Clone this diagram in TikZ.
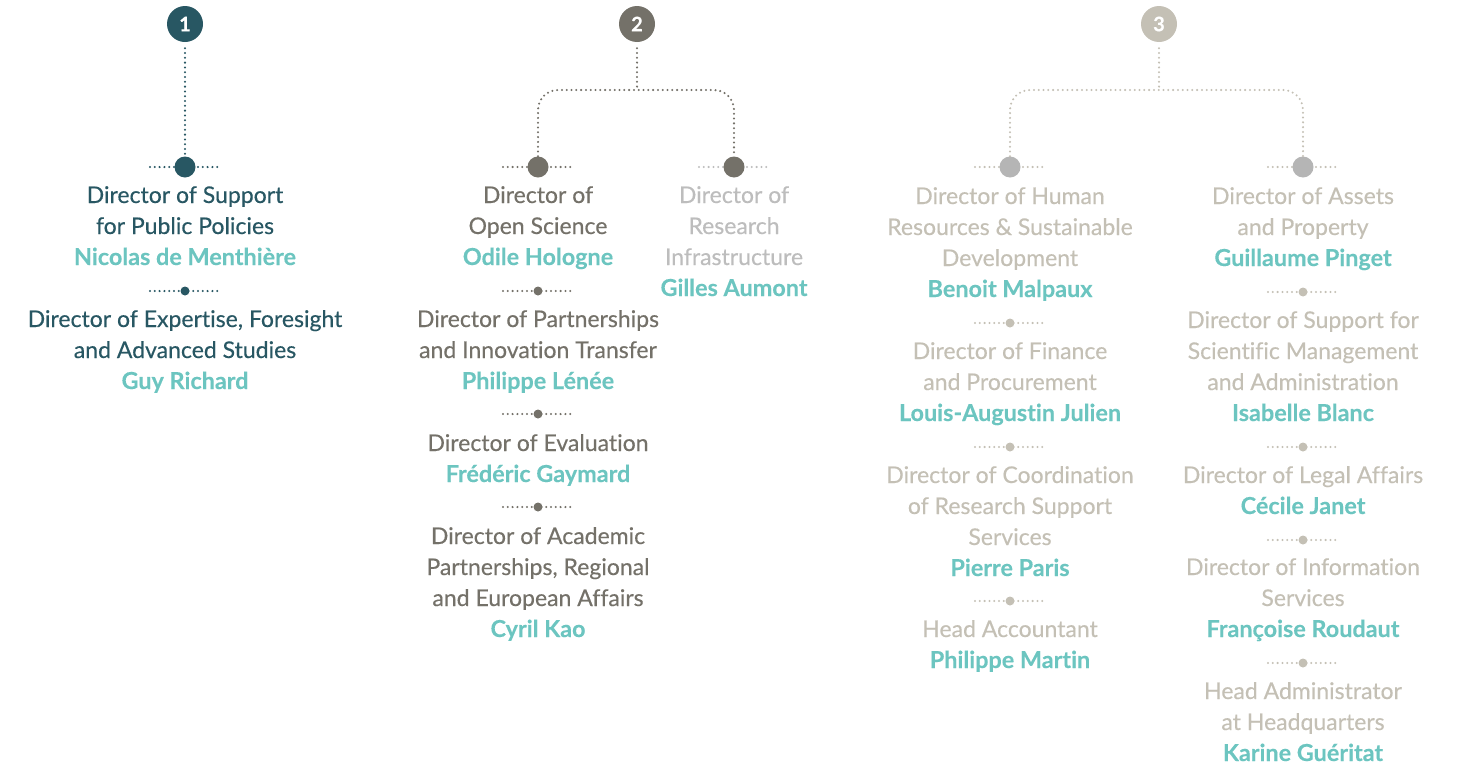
\documentclass[tikz,border=0pt]{standalone}
\usepackage{fontspec}
\setmainfont{Lato}[Ligatures=NoCommon,FakeBold=0.35,BoldFeatures={FakeBold=0.2}]
\definecolor{cone}{HTML}{285763}
\definecolor{ctwo}{HTML}{747169}
\definecolor{cthree}{HTML}{C4C0B5}
\definecolor{clight}{HTML}{BDBDBD}
\definecolor{cdotthree}{HTML}{B5B5B5}
\definecolor{cname}{HTML}{6CC5C0}
\tikzset{
  txt/.style={anchor=base,inner sep=0pt,font=\fontsize{23}{27}\selectfont},
  roleone/.style={txt,text=cone},
  roletwo/.style={txt,text=ctwo},
  rolelight/.style={txt,text=clight},
  rolethree/.style={txt,text=cthree},
  person/.style={txt,text=cname,font=\fontsize{23.4}{27}\selectfont\bfseries},
  numcirc/.style={circle,minimum size=36pt,inner sep=0pt,text=white,font=\fontsize{20}{22}\selectfont\bfseries},
  bigdot/.style={circle,minimum size=21pt,inner sep=0pt},
  sepdot/.style={circle,minimum size=9pt,inner sep=0pt},
  dotline/.style={line width=2.3pt,line cap=round,dash pattern=on 0pt off 4.8pt},
}
\newcommand\blk[4]{%
  \foreach \s/\t [count=\i] in {#4} {
    \node[\s] (#1-\i) at ({#2},{#3+8+31*(\i-1)}) {\t};
  }%
}
\newcommand\sepr[4]{%
  \coordinate (#1) at (#2,#3);
  \draw[dotline,draw=#4] ([xshift=-35pt]#1) -- ([xshift=35pt]#1);
  \node[sepdot,fill=#4] (#1-d) at (#1) {};
}
\begin{document}
\begin{tikzpicture}[x=1pt,y=-1pt]
\useasboundingbox (0,0) rectangle (1462,766);
% ---------- column 1 ----------
\node[numcirc,fill=cone] (c1) at (185,24) {1};
\coordinate (s1) at (185,167);
\draw[dotline,draw=cone] ([xshift=-35pt]s1) -- ([xshift=35pt]s1);
\node[bigdot,fill=cone] (d1) at (s1) {};
\draw[dotline,draw=cone] (c1.south) ++(0,6) -- (d1.north);
\blk{a1}{185}{195}{roleone/Director of Support, roleone/for Public Policies, person/Nicolas de Menthière}
\sepr{sa1}{185}{291}{cone}
\blk{a2}{185}{319}{roleone/{Director of Expertise, Foresight}, roleone/and Advanced Studies, person/Guy Richard}
% ---------- column 2 ----------
\node[numcirc,fill=ctwo] (c2) at (637,24) {2};
\coordinate (j2) at (637,90);
\coordinate (s2a) at (538,167);
\coordinate (s2b) at (734,167);
\draw[dotline,draw=ctwo] ([xshift=-35pt]s2a) -- ([xshift=35pt]s2a);
\draw[dotline,draw=clight] ([xshift=-35pt]s2b) -- ([xshift=35pt]s2b);
\node[bigdot,fill=ctwo] (d2a) at (s2a) {};
\node[bigdot,fill=ctwo] (d2b) at (s2b) {};
\draw[dotline,draw=ctwo] (c2.south) ++(0,6) -- (j2);
\draw[dotline,draw=ctwo,rounded corners=20pt] (d2a.north) |- (j2) -| (d2b.north);
\blk{b1}{538}{195}{roletwo/Director of, roletwo/Open Science, person/Odile Hologne}
\sepr{sb1}{538}{291}{ctwo}
\blk{b2}{538}{319}{roletwo/Director of Partnerships, roletwo/and Innovation Transfer, person/Philippe Lénée}
\sepr{sb2}{538}{414}{ctwo}
\blk{b3}{538}{443}{roletwo/Director of Evaluation, person/Frédéric Gaymard}
\sepr{sb3}{538}{507}{ctwo}
\blk{b4}{538}{536}{roletwo/Director of Academic, roletwo/{Partnerships, Regional}, roletwo/and European Affairs, person/Cyril Kao}
\blk{b5}{734}{195}{rolelight/Director of, rolelight/Research, rolelight/Infrastructure, person/Gilles Aumont}
% ---------- column 3 ----------
\node[numcirc,fill=cthree] (c3) at (1159,24) {3};
\coordinate (j3) at (1159,90);
\coordinate (s3a) at (1010,167);
\coordinate (s3b) at (1303,167);
\draw[dotline,draw=cthree] ([xshift=-35pt]s3a) -- ([xshift=35pt]s3a);
\draw[dotline,draw=cthree] ([xshift=-35pt]s3b) -- ([xshift=35pt]s3b);
\node[bigdot,fill=cdotthree] (d3a) at (s3a) {};
\node[bigdot,fill=cdotthree] (d3b) at (s3b) {};
\draw[dotline,draw=cthree] (c3.south) ++(0,6) -- (j3);
\draw[dotline,draw=cthree,rounded corners=20pt] (d3a.north) |- (j3) -| (d3b.north);
\blk{e1}{1010}{196}{rolethree/Director of Human, rolethree/Resources \& Sustainable, rolethree/Development, person/Benoit Malpaux}
\sepr{se1}{1010}{323}{cthree}
\blk{e2}{1010}{351}{rolethree/Director of Finance, rolethree/and Procurement, person/Louis-Augustin Julien}
\sepr{se2}{1010}{447}{cthree}
\blk{e3}{1010}{475}{rolethree/Director of Coordination, rolethree/of Research Support, rolethree/Services, person/Pierre Paris}
\sepr{se3}{1010}{601}{cthree}
\blk{e4}{1010}{629}{rolethree/Head Accountant, person/Philippe Martin}
\blk{f1}{1303}{196}{rolethree/Director of Assets, rolethree/and Property, person/Guillaume Pinget}
\sepr{sf1}{1303}{292}{cthree}
\blk{f2}{1303}{320}{rolethree/Director of Support for, rolethree/Scientific Management, rolethree/and Administration, person/Isabelle Blanc}
\sepr{sf2}{1303}{447}{cthree}
\blk{f3}{1303}{475}{rolethree/Director of Legal Affairs, person/Cécile Janet}
\sepr{sf3}{1303}{540}{cthree}
\blk{f4}{1303}{567}{rolethree/Director of Information, rolethree/Services, person/Françoise Roudaut}
\sepr{sf4}{1303}{663}{cthree}
\blk{f5}{1303}{691}{rolethree/Head Administrator, rolethree/at Headquarters, person/Karine Guéritat}
\end{tikzpicture}
\end{document}
